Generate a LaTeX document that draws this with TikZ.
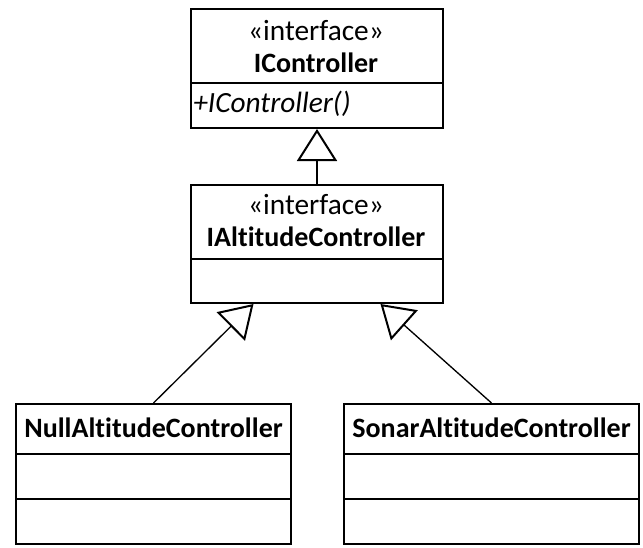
\documentclass[tikz,border=0pt]{standalone}
\usepackage{fontspec}
\setmainfont{Carlito}[Ligatures=CommonOff]
\usetikzlibrary{arrows.meta, calc}

\tikzset{
  umlbox/.style={draw, line width=1.5pt, inner sep=0pt, anchor=north west},
  divider/.style={line width=1.5pt},
  inherit/.style={line width=1pt, -{Triangle[open, length=24pt, width=30pt, line width=1.5pt]}},
  stereo/.style={font=\fontsize{22}{24}\selectfont, inner sep=0pt},
  cname/.style={font=\fontsize{21}{24}\selectfont\bfseries, inner sep=0pt},
  oper/.style={font=\fontsize{22}{24}\selectfont\itshape, inner sep=0pt, anchor=west},
}

\begin{document}
\begin{tikzpicture}[x=0.75pt,y=0.75pt,yscale=-1,xscale=1]
\useasboundingbox (0,0) rectangle (643,547);

% IController
\node[umlbox, minimum width=189pt, minimum height=89.25pt] (ictl) at (190,8) {};
\draw[divider] (ictl.west |- 0,83) -- (ictl.east |- 0,83);
\node[stereo] (ictl-st) at (316,31) {«interface»};
\node[cname] (ictl-nm) at (316,63) {IController};
\node[oper] (ictl-op) at (193,104) {+IController()};

% IAltitudeController
\node[umlbox, minimum width=189pt, minimum height=88.5pt] (ialt) at (190,184) {};
\draw[divider] (ialt.west |- 0,259) -- (ialt.east |- 0,259);
\node[stereo] (ialt-st) at (316,205) {«interface»};
\node[cname] (ialt-nm) at (316,237) {IAltitudeController};

% NullAltitudeController
\node[umlbox, minimum width=206.25pt, minimum height=105pt] (null) at (15,403) {};
\draw[divider] (null.west |- 0,454) -- (null.east |- 0,454);
\draw[divider] (null.west |- 0,499) -- (null.east |- 0,499);
\node[cname] (null-nm) at (null.north |- 0,428) {NullAltitudeController};

% SonarAltitudeController
\node[umlbox, minimum width=221.25pt, minimum height=105pt] (sonar) at (343,403) {};
\draw[divider] (sonar.west |- 0,454) -- (sonar.east |- 0,454);
\draw[divider] (sonar.west |- 0,499) -- (sonar.east |- 0,499);
\node[cname] (sonar-nm) at (sonar.north |- 0,428) {SonarAltitudeController};

% generalisations
\draw[inherit] (ialt.north) -- (ictl.south);
\draw[inherit] (null.north) -- ($(ialt.south west)!0.25!(ialt.south east)$);
\draw[inherit] (sonar.north) -- ($(ialt.south west)!0.75!(ialt.south east)$);

\end{tikzpicture}
\end{document}
